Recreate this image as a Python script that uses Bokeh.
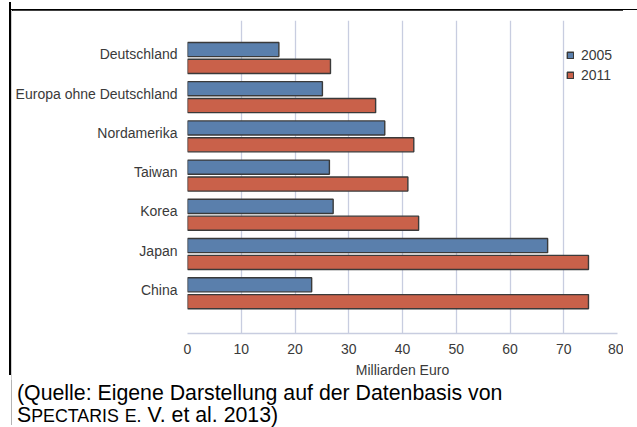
from bokeh.plotting import figure
from bokeh.models import (ColumnDataSource, Range1d, FixedTicker,
                          Legend, LegendItem, Div)
from bokeh.transform import dodge
from bokeh.layouts import column, row
from bokeh.embed import file_html
from bokeh.resources import INLINE

# Umsatz nach Region, Milliarden Euro
regions = ["Deutschland", "Europa ohne Deutschland", "Nordamerika",
           "Taiwan", "Korea", "Japan", "China"]
umsatz_2005 = [17.0, 25.1, 36.7, 26.4, 27.1, 67.0, 23.1]
umsatz_2011 = [26.6, 35.0, 42.1, 41.0, 43.0, 74.6, 74.6]
years = ["2005", "2011"]
x_ticks = [0, 10, 20, 30, 40, 50, 60, 70, 80]
x_label = "Milliarden Euro"

FONT = "Liberation Sans"
TEXT = "#3a3a3a"
GRID = "#c8cde0"
BLUE = "#5a7fac"
RED = "#c9614a"
EDGE = "#3a3a3a"

PAGE_W, PAGE_H = 637, 427
TOP_H = 10          # strip holding the top rule
SIDE_W = 12         # strip holding the left rule
RIGHT_W = 14        # blank strip on the right
CAPTION_H = 47
PLOT_W = PAGE_W - SIDE_W - RIGHT_W
PLOT_H = PAGE_H - TOP_H - CAPTION_H

# first region at the top: one row slot per region, counted from the bottom
slot = [len(regions) - 1 - i for i in range(len(regions))]
source = ColumnDataSource(dict(slot=slot, region=regions,
                               v2005=umsatz_2005, v2011=umsatz_2011))

y_range = Range1d(-1.115, len(regions) - 1 + 0.867)

p = figure(width=PLOT_W, height=PLOT_H, y_range=y_range, x_range=Range1d(0, 80),
           output_backend="svg", toolbar_location=None,
           min_border_left=174, min_border_right=6,
           min_border_top=10, min_border_bottom=47)
p.outline_line_color = None
p.background_fill_color = "white"
p.border_fill_color = "white"

# each pair hangs slightly below its row label: 2005 on top, 2011 below
bar_2005 = p.hbar(y=dodge("slot", 0.127), left=0, right="v2005",
                  height=0.36, source=source, fill_color=BLUE,
                  line_color=EDGE, line_width=1.4)
bar_2011 = p.hbar(y=dodge("slot", -0.303), left=0, right="v2011",
                  height=0.36, source=source, fill_color=RED,
                  line_color=EDGE, line_width=1.4)

# x axis
p.xaxis.ticker = FixedTicker(ticks=x_ticks)
p.xaxis.axis_label = x_label
p.xaxis.axis_line_color = GRID
p.xaxis.axis_line_width = 1.3
p.xaxis.major_tick_line_color = None
p.xaxis.minor_tick_line_color = None
p.xaxis.major_tick_out = 0
p.xaxis.major_label_standoff = 10
p.xaxis.axis_label_standoff = 5
p.xaxis.major_label_text_font = FONT
p.xaxis.major_label_text_font_size = "14px"
p.xaxis.major_label_text_color = TEXT
p.xaxis.axis_label_text_font = FONT
p.xaxis.axis_label_text_font_size = "14px"
p.xaxis.axis_label_text_font_style = "normal"
p.xaxis.axis_label_text_color = TEXT

# y axis: region names on the row slots
p.yaxis.ticker = FixedTicker(ticks=slot)
p.yaxis.major_label_overrides = {s: name for s, name in zip(slot, regions)}
p.yaxis.axis_line_color = None
p.yaxis.major_tick_line_color = None
p.yaxis.minor_tick_line_color = None
p.yaxis.major_tick_out = 0
p.yaxis.major_label_standoff = 10
p.yaxis.major_label_text_font = FONT
p.yaxis.major_label_text_font_size = "14px"
p.yaxis.major_label_text_color = TEXT

p.xgrid.grid_line_color = GRID
p.xgrid.grid_line_width = 1.3
p.ygrid.grid_line_color = None

legend = Legend(items=[LegendItem(label=years[0], renderers=[bar_2005]),
                       LegendItem(label=years[1], renderers=[bar_2011])],
                location=(379, 250), glyph_width=8, glyph_height=8,
                label_standoff=7, spacing=3, label_height=17, padding=0,
                margin=0, border_line_color=None, background_fill_alpha=0,
                label_text_font=FONT, label_text_font_size="14px",
                label_text_color=TEXT)
p.add_layout(legend)

# page frame: thick black rule on top and on the left, thin grey inner rule
top_strip = Div(width=PAGE_W, height=TOP_H, margin=0, text=(
    f'<div style="position:relative;width:{PAGE_W}px;height:{TOP_H}px;background:#fff">'
    '<div style="position:absolute;left:9px;top:0;width:2px;height:10px;background:#000"></div>'
    f'<div style="position:absolute;left:9px;top:7px;width:{PAGE_W - 9}px;height:2px;background:#000"></div>'
    '</div>'))

side_strip = Div(width=SIDE_W, height=PLOT_H, margin=0, text=(
    f'<div style="position:relative;width:{SIDE_W}px;height:{PLOT_H}px;background:#fff">'
    f'<div style="position:absolute;left:9px;top:0;width:2px;height:{PLOT_H - 5}px;background:#000"></div>'
    f'<div style="position:absolute;left:11px;top:0;width:1px;height:{PLOT_H}px;background:#cfcfcf"></div>'
    '</div>'))

right_strip = Div(width=RIGHT_W, height=PLOT_H, margin=0, text=(
    f'<div style="width:{RIGHT_W}px;height:{PLOT_H}px;background:#fff"></div>'))

caption = Div(width=PAGE_W, height=CAPTION_H, margin=0, text=(
    f'<div style="margin-left:11px;border-left:1px solid #b4b4b4;padding-left:5px;'
    f'padding-top:2px;height:{CAPTION_H - 2}px;font-family:\'{FONT}\';font-size:21.3px;'
    'line-height:22px;color:#000;white-space:nowrap">'
    '(Quelle: Eigene Darstellung auf der Datenbasis von<br>'
    'S<span style="font-size:17.8px">PECTARIS</span> '
    '<span style="font-size:17.8px">E.</span> V. et al. 2013)</div>'))

layout = column(top_strip,
                row(side_strip, p, right_strip, spacing=0),
                caption, spacing=0)

with open("out.html", "w") as f:
    f.write(file_html(layout, INLINE))
